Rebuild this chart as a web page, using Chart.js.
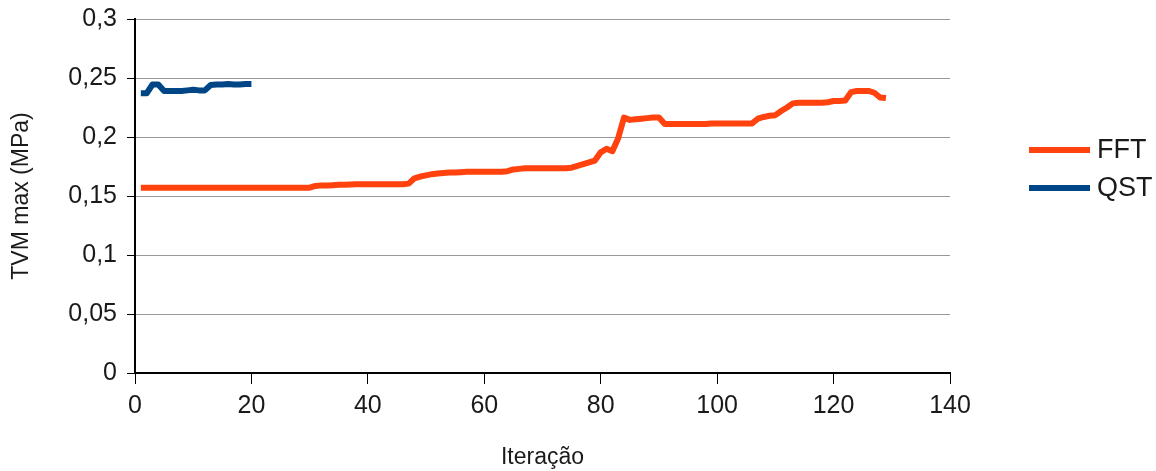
<!DOCTYPE html>
<html>
<head>
<meta charset="utf-8">
<script src="https://cdn.jsdelivr.net/npm/chart.js@4/dist/chart.umd.min.js"></script>
<style>
  html, body { margin: 0; padding: 0; background: #fff; }
  #box { width: 1156px; height: 471px; }
</style>
</head>
<body>
<div id="box"><canvas id="grafico-tvm"></canvas></div>
<script>
// Valores máximos de TVM por iteração (MPa)
const fftValores = [
  0.157, 0.157, 0.157, 0.157, 0.157, 0.157, 0.157, 0.157, 0.157, 0.157,
  0.157, 0.157, 0.157, 0.157, 0.157, 0.157, 0.157, 0.157, 0.157, 0.157,
  0.157, 0.157, 0.157, 0.157, 0.157, 0.157, 0.157, 0.157, 0.157, 0.157,
  0.1585, 0.159, 0.159, 0.1592, 0.1595, 0.1595, 0.1597, 0.16,
  0.16, 0.16, 0.16, 0.16, 0.16, 0.16, 0.16, 0.16,
  0.1605, 0.165, 0.1665, 0.1675, 0.1685, 0.169, 0.1695, 0.17, 0.17, 0.1702,
  0.1705, 0.1705, 0.1705, 0.1705, 0.1705, 0.1705, 0.1705,
  0.171, 0.1725, 0.173,
  0.1735, 0.1735, 0.1735, 0.1735, 0.1735, 0.1735, 0.1735, 0.1735,
  0.174, 0.1755, 0.177, 0.1785, 0.18, 0.187, 0.19, 0.188, 0.199, 0.2165,
  0.2145, 0.215, 0.2155, 0.216, 0.2165, 0.2165,
  0.211,
  0.211, 0.211, 0.211, 0.211, 0.211, 0.211, 0.211,
  0.2115, 0.2115, 0.2115, 0.2115, 0.2115, 0.2115, 0.2115, 0.2115,
  0.2155, 0.217, 0.218, 0.2185, 0.222, 0.225, 0.2285,
  0.229, 0.229, 0.229, 0.229, 0.229,
  0.2295, 0.2305, 0.2305, 0.231, 0.238, 0.239, 0.239, 0.239, 0.2375, 0.2335, 0.233
];

const qstValores = [
  0.237, 0.237, 0.2445, 0.2445, 0.239, 0.239, 0.239, 0.239, 0.2395, 0.24,
  0.2395, 0.2395, 0.244, 0.2445, 0.2445, 0.245, 0.2445, 0.2445, 0.245, 0.245
];

const series = ['FFT', 'QST'];
const cores = ['#ff420e', '#004586'];

const fonte = '"Liberation Sans", Arial, sans-serif';
const corTexto = '#1a1a1a';

// Converte a lista de valores em pontos {x: iteração, y: valor}
const paraPontos = valores => valores.map((v, i) => ({ x: i + 1, y: v }));

// Legenda desenhada à direita da área do gráfico
const legendaLateral = {
  id: 'legendaLateral',
  afterDraw(chart) {
    const ctx = chart.ctx;
    const posY = [150, 188];
    ctx.save();
    chart.data.datasets.forEach((ds, i) => {
      ctx.strokeStyle = ds.borderColor;
      ctx.lineWidth = 6;
      ctx.beginPath();
      ctx.moveTo(1029, posY[i]);
      ctx.lineTo(1090, posY[i]);
      ctx.stroke();
      ctx.fillStyle = corTexto;
      ctx.font = '27px ' + fonte;
      ctx.textBaseline = 'middle';
      ctx.textAlign = 'left';
      ctx.fillText(ds.label, 1097, posY[i] + 1);
    });
    ctx.restore();
  }
};

const ctx = document.getElementById('grafico-tvm').getContext('2d');

const grafico = new Chart(ctx, {
  type: 'line',
  data: {
    datasets: [
      {
        label: series[0],
        data: paraPontos(fftValores),
        borderColor: cores[0],
        backgroundColor: cores[0],
        borderWidth: 6,
        pointRadius: 0,
        borderJoinStyle: 'round',
        tension: 0
      },
      {
        label: series[1],
        data: paraPontos(qstValores),
        borderColor: cores[1],
        backgroundColor: cores[1],
        borderWidth: 6,
        pointRadius: 0,
        borderJoinStyle: 'round',
        tension: 0
      }
    ]
  },
  options: {
    responsive: true,
    maintainAspectRatio: false,
    animation: false,
    layout: {
      padding: { left: 0, top: 19, right: 206, bottom: 0 }
    },
    scales: {
      x: {
        type: 'linear',
        min: 0,
        max: 140,
        afterFit: escala => {
          escala.height = 98;
          escala.paddingLeft = 0;
          escala.paddingRight = 0;
        },
        ticks: {
          stepSize: 20,
          padding: 7,
          color: corTexto,
          font: { family: fonte, size: 25 },
          maxRotation: 0
        },
        grid: {
          drawOnChartArea: false,
          drawTicks: true,
          tickLength: 11,
          tickColor: '#000',
          color: 'transparent'
        },
        border: { display: true, color: '#000', width: 2 },
        title: {
          display: true,
          text: 'Iteração',
          color: corTexto,
          font: { family: fonte, size: 23 },
          padding: { top: 0, bottom: 0 }
        }
      },
      y: {
        min: 0,
        max: 0.3,
        // largura fixa do eixo e sem folga extra acima do rótulo do topo
        afterFit: escala => {
          escala.width = 135;
          escala.paddingTop = 0;
          escala.paddingBottom = 0;
        },
        ticks: {
          stepSize: 0.05,
          padding: 10,
          color: corTexto,
          font: { family: fonte, size: 25 },
          callback: v => Number(v.toFixed(2)).toString().replace('.', ',')
        },
        grid: {
          color: '#999',
          lineWidth: 1,
          drawTicks: true,
          tickLength: 8,
          tickColor: '#000'
        },
        border: { display: true, color: '#000', width: 2 },
        title: {
          display: true,
          text: 'TVM max (MPa)',
          color: corTexto,
          font: { family: fonte, size: 23 },
          padding: { top: 8, bottom: 0 }
        }
      }
    },
    plugins: {
      legend: { display: false },
      tooltip: { enabled: false }
    }
  },
  plugins: [legendaLateral]
});
</script>
</body>
</html>
